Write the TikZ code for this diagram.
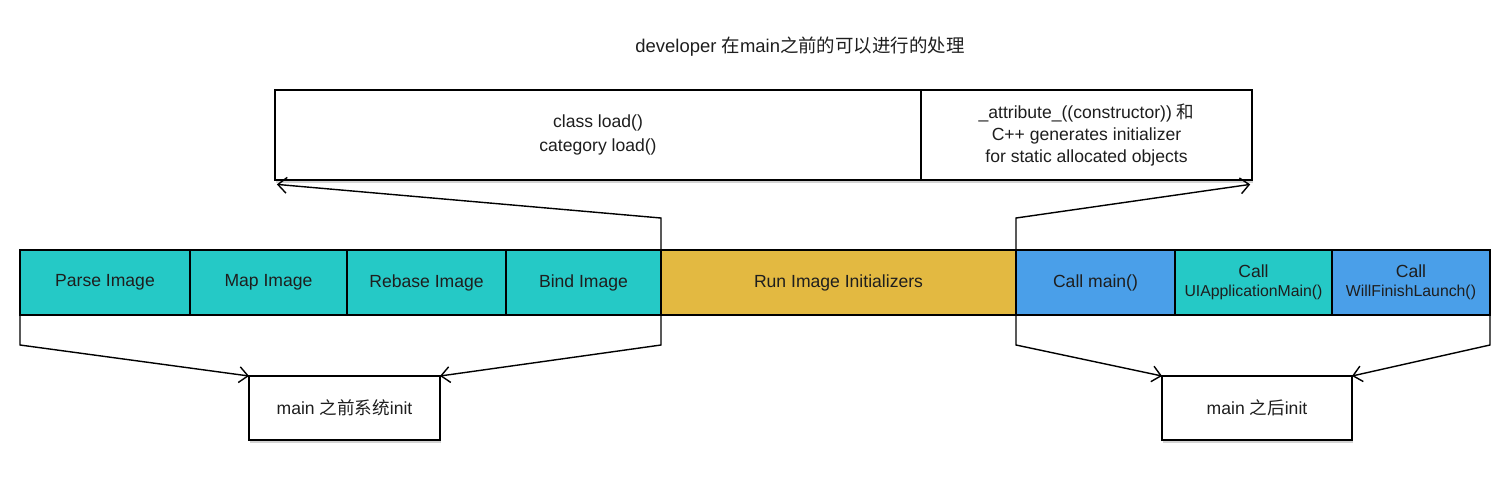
\documentclass[tikz,border=0pt]{standalone}
\usepackage{fontspec}
\setmainfont{Liberation Sans}
\newfontfamily\cjk{Noto Sans CJK SC}
\usetikzlibrary{arrows.meta,shadows}

\definecolor{stepteal}{HTML}{25C9C6}
\definecolor{stepgold}{HTML}{E3B941}
\definecolor{stepblue}{HTML}{4A9FE9}
\definecolor{inktext}{HTML}{1E1E1E}

\tikzset{
  phase/.style={draw, line width=0.8pt, inner sep=0pt, outer sep=0pt,
    minimum height=1.3cm, align=center, text=inktext,
    font=\fontsize{10}{12}\selectfont},
  note/.style={draw, fill=white, line width=0.8pt, inner sep=0pt, outer sep=0pt,
    align=center, text=inktext,
    drop shadow={shadow xshift=0.5pt, shadow yshift=-1.8pt, opacity=0.35}},
  link/.style={line width=0.8pt, -{Straight Barb[length=5pt,width=9pt]}}
}

\begin{document}
\begin{tikzpicture}[x=0.02cm, y=-0.02cm]
  \useasboundingbox (0,0) rectangle (1500,498);

  % title
  \node[text=inktext, font=\fontsize{10.5}{12}\selectfont] (title) at (800,47)
    {developer {\cjk 在}main{\cjk 之前的可以进行的处理}};

  % what the developer can hook
  \node[note, minimum width=12.92cm, minimum height=1.8cm,
    font=\fontsize{10}{14}\selectfont] (load) at (598,135)
    {class load()\\category load()};
  \node[note, minimum width=6.62cm, minimum height=1.8cm,
    font=\fontsize{10}{12.5}\selectfont] (ctor) at (1086.5,135)
    {\_attribute\_((constructor)) {\cjk 和}\\C++ generates initializer\\for static allocated objects};

  % launch phases
  \node[phase, fill=stepteal, minimum width=3.4cm]  (parse)  at (105,282.5)   {Parse Image};
  \node[phase, fill=stepteal, minimum width=3.14cm] (map)    at (268.5,282.5) {Map Image};
  \node[phase, fill=stepteal, minimum width=3.18cm] (rebase) at (426.5,282.5) {Rebase Image};
  \node[phase, fill=stepteal, minimum width=3.1cm]  (bind)   at (583.5,282.5) {Bind Image};
  \node[phase, fill=stepgold, minimum width=7.1cm]  (run)    at (838.5,282.5) {Run Image Initializers};
  \node[phase, fill=stepblue, minimum width=3.18cm] (callmain) at (1095.5,282.5) {Call main()};
  \node[phase, fill=stepteal, minimum width=3.14cm] (uiapp)  at (1253.5,282.5)
    {Call\\[-1pt]{\fontsize{9}{11}\selectfont UIApplicationMain()}};
  \node[phase, fill=stepblue, minimum width=3.16cm] (finish) at (1411,282.5)
    {Call\\[-1pt]{\fontsize{9}{11}\selectfont WillFinishLaunch()}};

  % before / after main
  \node[note, minimum width=3.82cm, minimum height=1.28cm,
    font=\fontsize{10}{12}\selectfont] (pre) at (344.5,408)
    {main {\cjk 之前系统}init};
  \node[note, minimum width=3.8cm, minimum height=1.28cm,
    font=\fontsize{10}{12}\selectfont] (post) at (1257,408)
    {main {\cjk 之后}init};

  % connectors
  \draw[link] (parse.south west) -- ++(0,30) -- (pre.north west);
  \draw[link] (bind.south east) -- ++(0,30) -- (pre.north east);
  \draw[link] (callmain.south west) -- ++(0,30) -- (post.north west);
  \draw[link] (finish.south east) -- ++(0,30) -- (post.north east);
  \draw[link] (bind.north east) -- ++(0,-32) -- ([xshift=1pt,yshift=-2.5pt]load.south west);
  \draw[link] (callmain.north west) -- ++(0,-32) -- ([xshift=-1pt,yshift=-2.5pt]ctor.south east);
\end{tikzpicture}
\end{document}
